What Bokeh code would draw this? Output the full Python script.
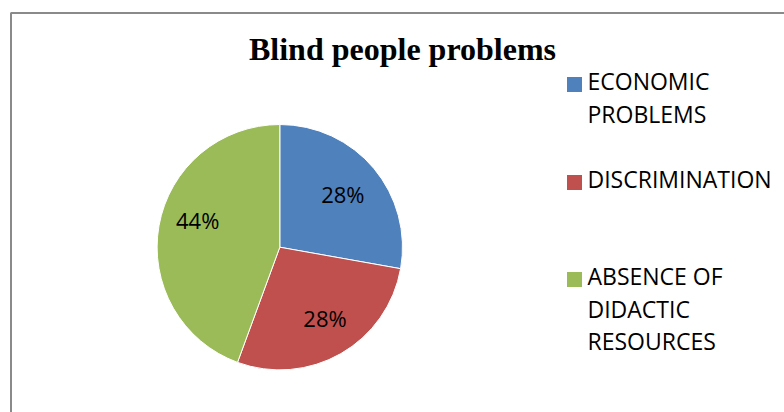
import math
from bokeh.plotting import figure
from bokeh.models import Range1d, ColumnDataSource
from bokeh.core.properties import value
from bokeh.embed import file_html
from bokeh.resources import INLINE

# ---- data ----
title = "Blind people problems"
categories = ["ECONOMIC\nPROBLEMS", "DISCRIMINATION", "ABSENCE OF\nDIDACTIC\nRESOURCES"]
shares = [27.8, 27.8, 44.4]
colors = ["#4F81BD", "#C0504D", "#9BBB59"]

W, H = 784, 412
def Y(py):
    return H - py

p = figure(width=W, height=H, output_backend="svg", toolbar_location=None,
           x_range=Range1d(0, W), y_range=Range1d(0, H), min_border=0)
p.axis.visible = False
p.grid.visible = False
p.outline_line_color = None
p.background_fill_color = "white"
p.border_fill_color = "white"

# chart frame
p.quad(left=[10.5], right=[W + 20], bottom=[Y(H + 20)], top=[Y(12.5)],
       fill_color=None, line_color="#8a8a8a", line_width=2)

# title
p.text(x=[402], y=[Y(62 - 14)], text=[title], text_font=value("Liberation Serif"),
       text_font_style="bold", text_font_size="32px", text_align="center",
       text_baseline="alphabetic", text_color="black")

# pie
cx, cy, r = 279.3, Y(246.7), 122.7
total = sum(shares)
starts, ends, mids = [], [], []
cum = 0.0
for s in shares:
    a0 = math.pi / 2 - 2 * math.pi * cum / total
    cum += s
    a1 = math.pi / 2 - 2 * math.pi * cum / total
    starts.append(a1)
    ends.append(a0)
    mids.append((a0 + a1) / 2)
src = ColumnDataSource(dict(start=starts, end=ends, color=colors))
p.wedge(x=cx, y=cy, radius=r, start_angle="start", end_angle="end",
        fill_color="color", line_color="white", line_width=1, source=src)

# data labels
frac = [0.66, 0.69, 0.68]
nudge = [(1, -2), (3, 0), (0, 10)]
lx, ly, lt = [], [], []
for s, m, f, (nx, ny) in zip(shares, mids, frac, nudge):
    px = cx + r * f * math.cos(m) + nx
    py = cy + r * f * math.sin(m) + ny
    lx.append(px)
    ly.append(py - 8 + 11)
    lt.append(f"{round(s / total * 100)}%")
p.text(x=lx, y=ly, text=lt, text_font=value("Open Sans"), text_font_size="22px",
       text_align="center", text_baseline="alphabetic", text_color="black")

# legend
leg_x_sq, leg_x_txt = 574, 587
first_base = [92, 190, 287]
line_h = 32.5
sq_x, sq_y, tx, ty, tt = [], [], [], [], []
for cat, b in zip(categories, first_base):
    sq_x.append(leg_x_sq)
    sq_y.append(Y(b - 8))
    for i, line in enumerate(cat.split("\n")):
        tx.append(leg_x_txt)
        ty.append(Y(b + i * line_h - 11.5))
        tt.append(line)
p.rect(x=sq_x, y=sq_y, width=15, height=15, fill_color=colors, line_color=None)
p.text(x=tx, y=ty, text=tt, text_font=value("Open Sans"), text_font_size="23px",
       text_align="left", text_baseline="alphabetic", text_color="black")

open("out.html", "w").write(file_html(p, INLINE))
